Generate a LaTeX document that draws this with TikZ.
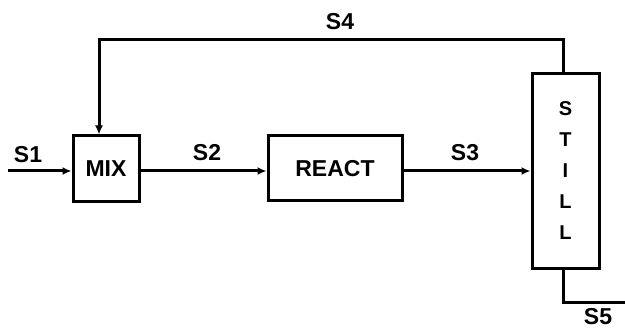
\documentclass[tikz,border=0pt]{standalone}
\usepackage{fontspec}
\setmainfont{Liberation Sans}
\usetikzlibrary{arrows.meta}
\begin{document}
\begin{tikzpicture}[x=1pt,y=-1pt,
  unit/.style={draw,line width=3pt,inner sep=0pt},
  flow/.style={line width=3pt,-{Latex[length=9pt,width=8pt]}},
  pipe/.style={line width=3pt},
  lbl/.style={font=\bfseries\fontsize{23}{25}\selectfont,inner sep=0pt},
  big/.style={font=\bfseries\fontsize{23}{25}\selectfont}]
\useasboundingbox (0,0) rectangle (625,329);
\node[unit,minimum width=66pt,minimum height=66pt,big] (mix) at (106,169) {MIX};
\node[unit,minimum width=134pt,minimum height=65pt,big] (react) at (335,168.5) {REACT};
\node[unit,minimum width=67pt,minimum height=194pt,align=center,font=\bfseries\fontsize{20}{31}\selectfont] (still) at (565.5,171) {S\\T\\I\\L\\L};
\coordinate (in) at (8,171);
\coordinate (t1) at (563,40);
\coordinate (t2) at (99,40);
\coordinate (b1) at (563,302);
\coordinate (b2) at (625,302);
\draw[flow] (in) -- (in -| mix.west);
\draw[flow] (mix.east |- 0,171) -- (react.west |- 0,171);
\draw[flow] (react.east |- 0,171) -- (still.west |- 0,171);
\draw[flow] (still.north -| t1) -- (t1) -- (t2) -- (mix.north -| t2);
\draw[pipe] (still.south -| b1) -- (b1) -- (b2);
\node[lbl] (s1) at (28,155) {S1};
\node[lbl] (s2) at (207,153) {S2};
\node[lbl] (s3) at (465,153) {S3};
\node[lbl] (s4) at (340,22) {S4};
\node[lbl] (s5) at (598,317) {S5};
\end{tikzpicture}
\end{document}
